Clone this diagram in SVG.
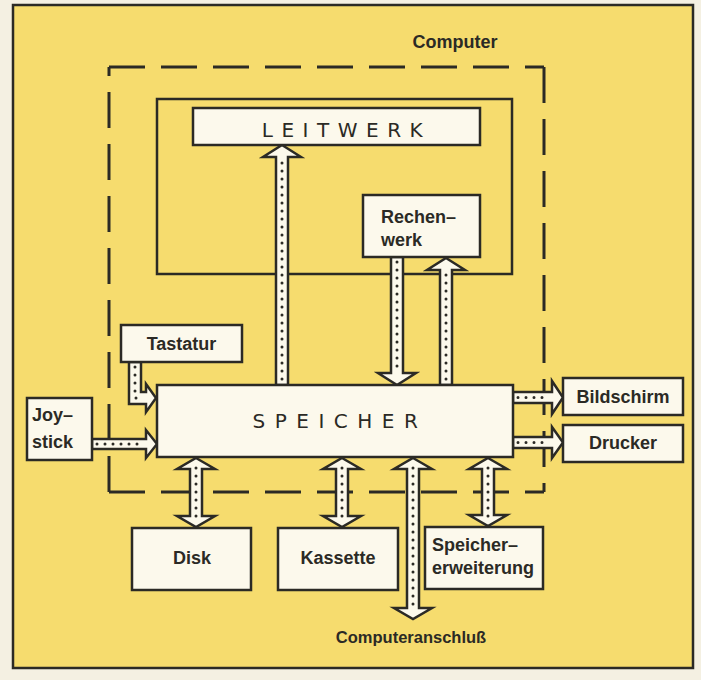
<svg xmlns="http://www.w3.org/2000/svg" width="701" height="680" viewBox="0 0 701 680">
<style>
.frame{fill:#f6dc6e;stroke:#2b2a25;stroke-width:2.5}
.box{fill:#fcf9ec;stroke:#2b2a25;stroke-width:2.5}
.cont{fill:none;stroke:#2b2a25;stroke-width:2.5}
.dash{fill:none;stroke:#2b2a25;stroke-width:3;stroke-dasharray:36 16}
.arr{fill:#fcf9ec;stroke:#2b2a25;stroke-width:2.5;stroke-linejoin:miter}
.dots{fill:none;stroke:#2b2a25;stroke-width:3;stroke-linecap:round;stroke-dasharray:0 8}
.lbl{font-family:"Liberation Sans",Arial,sans-serif;font-weight:bold;font-size:18px;fill:#2b2a25}
.big{font-family:"DejaVu Sans",sans-serif;font-size:20px;fill:#2b2a25}
</style>
<rect x="0" y="0" width="701" height="680" fill="#f4f0e2"/>
<rect class="frame" x="13" y="5" width="680" height="663"/>
<g id="computer">
<path class="dash" d="M109,67 H544"/>
<path class="dash" d="M544,67 V492"/>
<path class="dash" d="M109,492 H544"/>
<path class="dash" d="M109,492 V67"/>
<text class="lbl" x="455" y="48" text-anchor="middle">Computer</text>
</g>
<g id="steuerung">
<rect class="cont" x="157" y="99" width="355" height="175"/>
</g>
<g id="connectors">
<path class="arr" d="M282,145 L301,157 L288,157 L288,385 L276,385 L276,157 L263,157 Z"/>
<path class="dots" d="M282,163 V381"/>
<path class="arr" d="M391,257 L403,257 L403,373 L416,373 L397,385 L378,373 L391,373 Z"/>
<path class="dots" d="M397,262 V368"/>
<path class="arr" d="M446,258 L465,270 L452,270 L452,385 L440,385 L440,270 L427,270 Z"/>
<path class="dots" d="M446,275 V381"/>
<path class="arr" d="M129,362 L141,362 L141,392 L146,392 L146,384 L156,398 L146,412 L146,404 L129,404 Z"/>
<path class="dots" d="M135,367 V398 H143"/>
<path class="arr" d="M92,439 L146,439 L146,430 L157,444 L146,458 L146,449 L92,449 Z"/>
<path class="dots" d="M97,444 H143"/>
<path class="arr" d="M513,392 L552,392 L552,381 L563,397.5 L552,414 L552,403 L513,403 Z"/>
<path class="dots" d="M518,397.5 H548"/>
<path class="arr" d="M513,437 L552,437 L552,427 L563,442.5 L552,458 L552,448 L513,448 Z"/>
<path class="dots" d="M518,442.5 H548"/>
<path class="arr" d="M196,458 L215,469 L202,469 L202,516 L215,516 L196,527 L177,516 L190,516 L190,469 L177,469 Z"/>
<path class="dots" d="M196,468 V518"/>
<path class="arr" d="M342,458 L361,469 L348,469 L348,516 L361,516 L342,527 L323,516 L336,516 L336,469 L323,469 Z"/>
<path class="dots" d="M342,468 V518"/>
<path class="arr" d="M488,458 L507,469 L494,469 L494,515 L507,515 L488,526 L469,515 L482,515 L482,469 L469,469 Z"/>
<path class="dots" d="M488,468 V517"/>
<path class="arr" d="M413,458 L432,469 L419,469 L419,608 L432,608 L413,619 L394,608 L407,608 L407,469 L394,469 Z"/>
<path class="dots" d="M413,468 V610"/>
<text class="lbl" x="411" y="643" text-anchor="middle" style="font-size:16.5px">Computeranschluß</text>
</g>
<g id="leitwerk">
<rect class="box" x="193" y="108" width="287" height="37"/>
<text class="big" x="346.5" y="137" text-anchor="middle" letter-spacing="8.5">LEITWERK</text>
</g>
<g id="rechenwerk">
<rect class="box" x="363" y="195" width="117" height="62"/>
<text class="lbl" x="381" y="223">Rechen–</text>
<text class="lbl" x="381" y="246">werk</text>
</g>
<g id="speicher">
<rect class="box" x="157" y="385" width="356" height="72"/>
<text class="big" x="340" y="428" text-anchor="middle" letter-spacing="9.5">SPEICHER</text>
</g>
<g id="tastatur">
<rect class="box" x="121" y="325" width="121" height="37"/>
<text class="lbl" x="181.5" y="350" text-anchor="middle">Tastatur</text>
</g>
<g id="joystick">
<rect class="box" x="27" y="398" width="65" height="62"/>
<text class="lbl" x="32" y="421">Joy–</text>
<text class="lbl" x="32" y="448">stick</text>
</g>
<g id="bildschirm">
<rect class="box" x="563" y="378" width="120" height="37"/>
<text class="lbl" x="623" y="403" text-anchor="middle">Bildschirm</text>
</g>
<g id="drucker">
<rect class="box" x="563" y="425" width="120" height="37"/>
<text class="lbl" x="623" y="449" text-anchor="middle">Drucker</text>
</g>
<g id="disk">
<rect class="box" x="132" y="528" width="119" height="62"/>
<text class="lbl" x="192" y="564" text-anchor="middle">Disk</text>
</g>
<g id="kassette">
<rect class="box" x="278" y="528" width="120" height="62"/>
<text class="lbl" x="338" y="564" text-anchor="middle">Kassette</text>
</g>
<g id="speichererweiterung">
<rect class="box" x="425" y="527" width="118" height="62"/>
<text class="lbl" x="432" y="551">Speicher–</text>
<text class="lbl" x="432" y="574">erweiterung</text>
</g>
</svg>
